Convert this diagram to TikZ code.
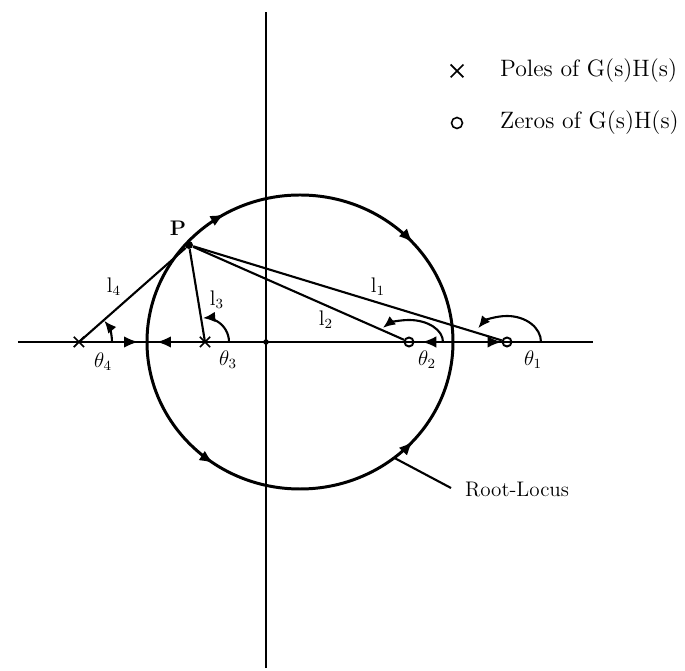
\documentclass[tikz,border=0pt]{standalone}
\usepackage{amsmath}
\usetikzlibrary{arrows.meta, positioning, shapes.misc, decorations.markings, calc}

\begin{document}
\begin{tikzpicture}[
    x=0.02cm, y=0.02cm,
    axis/.style={line width=1.1pt},
    locus/.style={line width=1.7pt},
    vec/.style={line width=1.2pt},
    pole/.style={cross out, draw, line width=1pt, minimum size=0.17cm, inner sep=0pt},
    zero/.style={circle, draw, line width=1.1pt, minimum size=0.18cm, inner sep=0pt},
    dot/.style={circle, fill, inner sep=0pt},
    angarc/.style={line width=1.2pt, -{Latex[length=7pt, width=6pt]}},
    midarrow/.style={postaction={decorate, decoration={markings,
        mark=at position #1 with {\arrow{Latex[length=8pt, width=6.5pt]}}}}},
    lbl/.style={font=\large, inner sep=1pt},
]
\useasboundingbox (-266,-329) rectangle (419,342);

% axes
\coordinate (ytop) at (0,330);
\coordinate (ybot) at (0,-326);
\coordinate (xleft) at (-248,0);
\coordinate (xright) at (327,0);
\draw[axis] (ybot) -- (ytop);
\draw[axis] (xleft) -- (xright);
\node[dot, minimum size=0.11cm] (O) at (0,0) {};

% breakaway and break-in points
\coordinate (C) at (34,0);
\coordinate (bl) at (-119,0);
\coordinate (br) at (187,0);

% root locus
\draw[locus, midarrow=0.333, midarrow=0.767] (bl)
     arc[start angle=180, end angle=0, x radius=153, y radius=147];
\draw[locus, midarrow=0.306, midarrow=0.767] (bl)
     arc[start angle=180, end angle=360, x radius=153, y radius=147];

% poles and zeros
\node[pole] (p4) at (-187,0) {};
\node[pole] (p3) at (-61,0) {};
\node[zero] (z2) at (143,0) {};
\node[zero] (z1) at (241,0) {};

% locus on the real axis
\draw[axis, midarrow=0.87] (p4.center) -- (bl);
\draw[axis, midarrow=0.83] (p3.center) -- (bl);
\draw[axis, midarrow=0.70] (br) -- (z2.center);
\draw[axis, midarrow=0.90] (br) -- (z1.center);

% test point and vectors
\node[dot, minimum size=0.16cm] (P) at (-77,97) {};
\node[font=\large\bfseries, inner sep=1pt] (Plbl) at (-88,114) {P};
\draw[vec] (p4.center) -- (P);
\draw[vec] (p3.center) -- (P);
\draw[vec] (z2) -- (P);
\draw[vec] (z1) -- (P);

\node[lbl] (l4) at (-152,55) {$\mathrm{l}_4$};
\node[lbl] (l3) at (-49,42) {$\mathrm{l}_3$};
\node[lbl] (l2) at (60,22) {$\mathrm{l}_2$};
\node[lbl] (l1) at (112,55) {$\mathrm{l}_1$};

% angles
\draw[angarc] ([shift={(0:33)}]p4.center) arc[start angle=0, end angle=40, radius=33];
\draw[angarc] ([shift={(0:24)}]p3.center) arc[start angle=0, end angle=95, radius=24];
\draw[angarc] ([shift={(0:34)}]z2.center) arc[start angle=0, end angle=140, x radius=34, y radius=22];
\draw[angarc] ([shift={(0:34)}]z1.center) arc[start angle=0, end angle=148, x radius=34, y radius=26];

\node[lbl] (t4) at (-163,-20) {$\theta_4$};
\node[lbl] (t3) at (-38,-18) {$\theta_3$};
\node[lbl] (t2) at (161,-18) {$\theta_2$};
\node[lbl] (t1) at (267,-18) {$\theta_1$};

% legend
\node[pole, minimum size=0.22cm] (lgx) at (191,271) {};
\node[zero, line width=0.9pt, minimum size=0.22cm] (lgo) at (191,219) {};
\node[font=\fontsize{13.5}{16}\selectfont, inner sep=1pt, anchor=west] (lgp)
     at (232,271) {Poles of G(s)H(s)};
\node[font=\fontsize{13.5}{16}\selectfont, inner sep=1pt, anchor=west] (lgz)
     at (232,219) {Zeros of G(s)H(s)};

% root-locus annotation
\coordinate (rlpt) at ($(C)+(-52:153 and 147)$);
\node[font=\large, inner sep=1pt, anchor=west] (rltxt) at (197,-148) {Root-Locus};
\draw[vec] (rlpt) -- ($(rltxt.west)+(-12,2)$);

\end{tikzpicture}
\end{document}
